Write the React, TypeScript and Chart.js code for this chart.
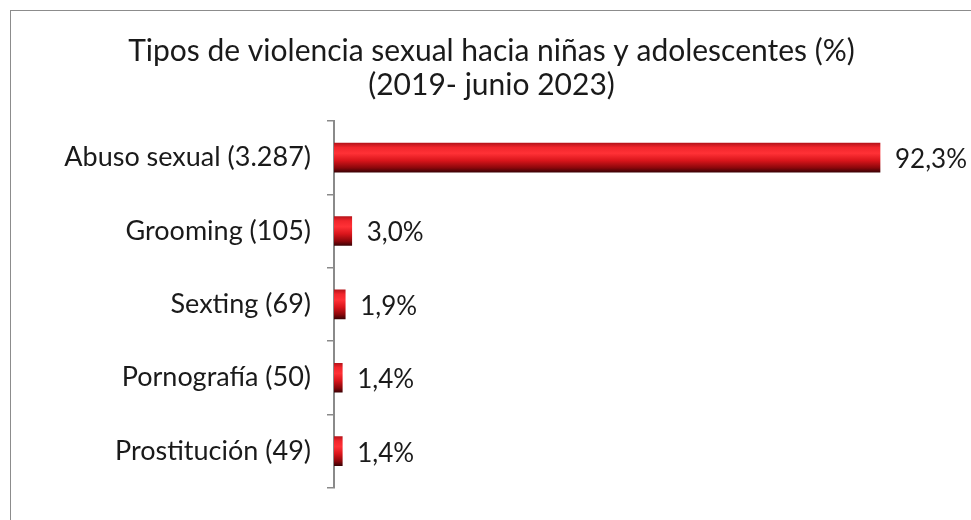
import React, { useEffect, useRef } from "react";
import { Chart, registerables } from "chart.js";

Chart.register(...registerables);

const titleLines = [
  "Tipos de violencia sexual hacia niñas y adolescentes (%)",
  "(2019- junio 2023)",
];
const categories = [
  "Abuso sexual (3.287)",
  "Grooming (105)",
  "Sexting (69)",
  "Pornografía (50)",
  "Prostitución (49)",
];
const percentValues = [92.3, 3.0, 1.9, 1.4, 1.4];
const valueLabels = ["92,3%", "3,0%", "1,9%", "1,4%", "1,4%"];

const FONT = "Lato, 'Noto Sans', sans-serif";
const BAR_THICK = 29;

const valueLabelPlugin = {
  id: "valueLabels",
  afterDatasetsDraw(chart: any) {
    const ctx = chart.ctx;
    const meta = chart.getDatasetMeta(0);
    ctx.save();
    ctx.font = `26px ${FONT}`;
    ctx.fillStyle = "#1a1a1a";
    ctx.textAlign = "left";
    ctx.textBaseline = "middle";
    meta.data.forEach((bar: any, i: number) => {
      ctx.fillText(valueLabels[i], bar.x + 15, bar.y + 2);
    });
    ctx.restore();
  },
};

export default function App() {
  const ref = useRef<HTMLCanvasElement>(null);
  useEffect(() => {
    if (!ref.current) return;
    const chart = new Chart(ref.current, {
      type: "bar",
      data: {
        labels: categories,
        datasets: [
          {
            data: percentValues,
            barThickness: BAR_THICK,
            borderWidth: 0,
            backgroundColor: (c: any) => {
              const ch = c.chart;
              const ys = ch.scales?.y;
              if (!ys || c.dataIndex === undefined) return "#e01b22";
              const yc = ys.getPixelForValue(c.dataIndex);
              if (!Number.isFinite(yc)) return "#e01b22";
              const g = ch.ctx.createLinearGradient(0, yc - BAR_THICK / 2, 0, yc + BAR_THICK / 2);
              g.addColorStop(0, "#b8141a");
              g.addColorStop(0.15, "#f2262c");
              g.addColorStop(0.35, "#ff3136");
              g.addColorStop(0.6, "#d9151b");
              g.addColorStop(0.85, "#8a070b");
              g.addColorStop(1, "#3d0205");
              return g;
            },
          },
        ],
      },
      options: {
        indexAxis: "y",
        animation: false,
        responsive: false,
        layout: { padding: { left: 32, right: 20, top: 34, bottom: 24 } },
        plugins: {
          legend: { display: false },
          tooltip: { enabled: false },
          title: {
            display: true,
            text: titleLines,
            color: "#1a1a1a",
            font: { family: FONT, size: 30, weight: "normal", lineHeight: 1.15 },
            padding: { top: 0, bottom: 18 },
          },
        },
        scales: {
          x: {
            display: false,
            min: 0,
            max: 104.3,
          },
          y: {
            afterFit: (s: any) => {
              s.width = 302;
            },
            grid: {
              drawOnChartArea: false,
              drawTicks: true,
              tickLength: 7,
              color: "#8a8a8a",
              lineWidth: 1.5,
              offset: true,
            },
            border: { display: true, color: "#8a8a8a", width: 2 },
            ticks: {
              color: "#1a1a1a",
              font: { family: FONT, size: 27 },
              padding: 16,
            },
          },
        },
      },
      plugins: [valueLabelPlugin],
    });
    return () => chart.destroy();
  }, []);

  return (
    <div
      style={{
        position: "fixed",
        left: 0,
        top: 0,
        width: 971,
        height: 520,
        overflow: "hidden",
        background: "#fff",
      }}
    >
      <div
        style={{
          position: "absolute",
          left: 10,
          top: 10,
          width: 1000,
          height: 600,
          borderLeft: "1.5px solid #8c8c8c",
          borderTop: "1.5px solid #8c8c8c",
        }}
      />
      <canvas
        ref={ref}
        width={971}
        height={520}
        style={{ position: "absolute", left: 0, top: 0 }}
      />
    </div>
  );
}
